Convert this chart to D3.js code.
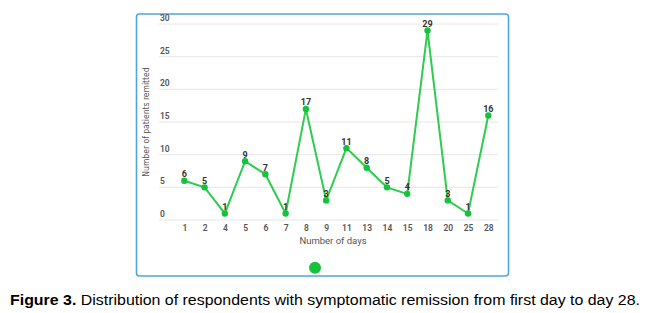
<!DOCTYPE html>
<html><head><meta charset="utf-8">
<script src="https://cdnjs.cloudflare.com/ajax/libs/d3/7.8.5/d3.min.js"></script>
<style>body{margin:0;background:#fff}svg{display:block}</style>
</head><body>
<script>
const categories = ["1","2","4","5","6","7","8","9","11","13","14","15","18","20","25","28"];
const values = [6,5,1,9,7,1,17,3,11,8,5,4,29,3,1,16];
const yTicks = [0,5,10,15,20,25,30];
const xTitle = "Number of days";
const yTitle = "Number of patients remitted";

const W = 654, H = 313;
const svg = d3.select("body").append("svg").attr("width", W).attr("height", H);

svg.append("rect").attr("x", 136.5).attr("y", 14).attr("width", 372).attr("height", 262)
  .attr("rx", 3).attr("fill", "#fff").attr("stroke", "#4ea6de").attr("stroke-width", 1.6);

const x = d3.scalePoint().domain(categories).range([184.3, 488.3]);
const y = d3.scaleLinear().domain([0, 30]).range([220, 24]);

// grid
svg.append("g").selectAll("line").data(yTicks).join("line")
  .attr("x1", 159).attr("x2", 498).attr("y1", d => y(d)).attr("y2", d => y(d))
  .attr("stroke", "#e6e6e6").attr("stroke-width", 1);

// y tick labels
svg.append("g").selectAll("text").data(yTicks).join("text")
  .attr("x", 160).attr("y", d => y(d) - 3)
  .attr("font-family", "Roboto, sans-serif").attr("font-size", 8.5).attr("font-weight", 600)
  .attr("fill", "#555").text(d => d);

// x axis labels
const xAxis = d3.axisBottom(x).tickSize(0).tickPadding(0);
const gx = svg.append("g").attr("transform", "translate(0,224.5)").call(xAxis);
gx.select(".domain").remove();
gx.selectAll("text").attr("font-family", "Roboto, sans-serif").attr("font-size", 8.5)
  .attr("font-weight", 600).attr("fill", "#555").attr("dy", "0.71em");

svg.append("text").attr("x", 333).attr("y", 243.5).attr("text-anchor", "middle")
  .attr("font-family", "Roboto, sans-serif").attr("font-size", 9.5).attr("fill", "#555").text(xTitle);

svg.append("text").attr("transform", "translate(148.5,122) rotate(-90)").attr("text-anchor", "middle")
  .attr("font-family", "'Liberation Sans Narrow', 'DejaVu Sans Condensed', sans-serif").attr("font-size", 8.5)
  .attr("fill", "#555").text(yTitle);

const data = categories.map((c, i) => ({c, v: values[i]}));
svg.append("path").datum(data)
  .attr("d", d3.line().x(d => x(d.c)).y(d => y(d.v)))
  .attr("fill", "none").attr("stroke", "#2ecc4f").attr("stroke-width", 2);

svg.append("g").selectAll("circle").data(data).join("circle")
  .attr("cx", d => x(d.c)).attr("cy", d => y(d.v)).attr("r", 3.2).attr("fill", "#14c23c");

svg.append("g").selectAll("text").data(data).join("text")
  .attr("x", d => x(d.c)).attr("y", d => y(d.v) - 3.5).attr("text-anchor", "middle")
  .attr("font-family", "Roboto, sans-serif").attr("font-size", 9).attr("font-weight", 700)
  .attr("fill", "#333").text(d => d.v);

svg.append("circle").attr("cx", 315).attr("cy", 267.7).attr("r", 6).attr("fill", "#14c23c");

const cap = svg.append("text").attr("x", 10).attr("y", 305)
  .attr("font-family", "'Liberation Sans', Arial, sans-serif").attr("font-size", 15.5).attr("fill", "#000")
  .attr("textLength", 630).attr("lengthAdjust", "spacingAndGlyphs");
cap.append("tspan").attr("font-weight", 700).text("Figure 3.");
cap.append("tspan").text(" Distribution of respondents with symptomatic remission from first day to day 28.");
</script>
</body></html>
